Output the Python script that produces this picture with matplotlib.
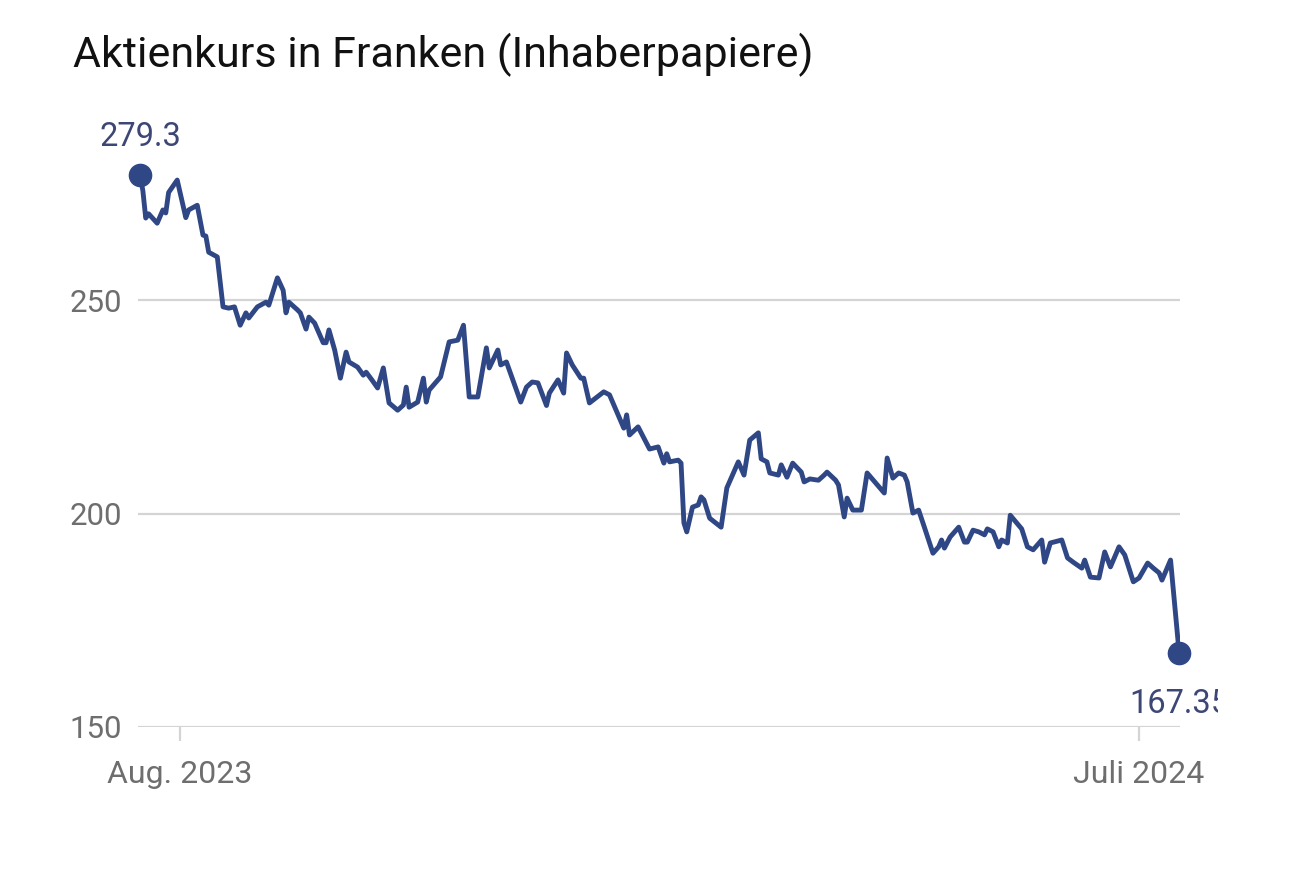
import matplotlib
matplotlib.use("Agg")
import matplotlib.pyplot as plt
import matplotlib.dates as mdates
from matplotlib.transforms import Bbox, TransformedBbox
import pandas as pd

# Kursdaten: Tage seit dem Startdatum und Schlusskurs in Franken
START = "2023-07-18"
tage = [0, 1, 2, 3, 6, 8, 9, 10, 13, 16, 17, 20, 22, 23, 24, 27, 29, 31, 33, 35,
        37, 38, 41, 44, 45, 48, 50, 51, 52, 55, 56, 58, 59, 61, 64, 65, 66, 68, 70, 72,
        73, 76, 78, 79, 81, 83, 85, 87, 90, 92, 93, 94, 97, 99, 100, 101, 105, 108, 111, 113,
        115, 118, 121, 122, 125, 126, 128, 133, 135, 137, 139, 142, 143, 146, 148, 149, 151, 154, 155, 157,
        162, 164, 169, 170, 171, 174, 178, 181, 183, 184, 185, 188, 189, 190, 191, 193, 195, 196, 197, 199,
        203, 205, 209, 211, 213, 216, 217, 219, 220, 223, 224, 226, 228, 231, 232, 234, 237, 239, 240, 243,
        244, 246, 247, 249, 252, 254, 260, 261, 263, 265, 267, 268, 270, 272, 274, 277, 279, 280, 281, 283,
        286, 288, 289, 291, 293, 295, 296, 298, 300, 301, 303, 304, 306, 308, 310, 312, 315, 316, 318, 322,
        324, 326, 329, 330, 332, 335, 337, 339, 342, 344, 347, 349, 352, 354, 356, 357, 360, 363]
kurs = [279.3, 275.6, 269.2, 270.2, 268.0, 271.1, 270.4, 275.2, 278.1, 269.3, 271.1, 272.2, 265.2, 265.0, 261.2, 260.1, 248.4, 248.1, 248.4, 244.1,
        247.0, 245.8, 248.4, 249.5, 248.8, 255.2, 252.3, 247.0, 249.5, 247.7, 247.0, 243.2, 246.0, 244.6, 240.0, 240.0, 243.0, 238.3, 231.7, 237.8,
        235.5, 234.3, 232.4, 233.1, 231.3, 229.4, 234.1, 225.9, 224.2, 225.4, 229.6, 224.9, 226.1, 231.7, 226.1, 228.9, 232.0, 240.2, 240.6, 244.1,
        227.3, 227.3, 238.8, 234.1, 238.3, 234.8, 235.5, 226.1, 229.6, 230.8, 230.6, 225.3, 228.2, 231.3, 228.2, 237.6, 234.8, 231.7, 231.7, 225.9,
        228.5, 227.8, 220.0, 223.1, 218.4, 220.3, 215.1, 215.6, 211.8, 214.0, 212.1, 212.5, 211.8, 197.8, 195.7, 201.5, 202.0, 203.9, 203.2, 198.9,
        196.8, 206.0, 212.1, 209.0, 217.2, 218.9, 212.8, 212.1, 209.5, 209.0, 211.4, 208.5, 211.8, 209.7, 207.4, 208.1, 207.8, 209.0, 209.7, 207.8,
        206.7, 199.2, 203.6, 200.8, 200.8, 209.5, 204.8, 213.0, 208.3, 209.5, 209.0, 207.4, 200.1, 200.8, 196.8, 190.7, 192.2, 193.8, 191.9, 194.5,
        196.8, 193.3, 193.3, 196.1, 195.7, 195.0, 196.4, 195.7, 192.2, 193.8, 193.1, 199.6, 198.0, 196.4, 192.2, 191.5, 193.8, 188.6, 193.1, 193.8,
        189.6, 188.6, 187.2, 189.1, 185.1, 184.9, 191.0, 187.5, 192.2, 190.3, 184.0, 184.9, 188.4, 187.2, 186.1, 184.4, 189.1, 167.35]

y_ticks = [150, 200, 250]
x_ticks = ["2023-08-01", "2024-07-01"]
x_labels = ["Aug. 2023", "Juli 2024"]
titel = "Aktienkurs in Franken (Inhaberpapiere)"

LINE = "#2f4785"
VALUE_TEXT = "#3d4775"
GREY = "#6e6e6e"
GRID = "#d4d4d4"
FONT = ["Roboto", "DejaVu Sans"]

W, H = 1290, 873


def main():
    datum = pd.to_datetime(START) + pd.to_timedelta(tage, unit="D")

    fig = plt.figure(figsize=(W / 100, H / 100), dpi=100)
    fig.patch.set_facecolor("white")
    ax = fig.add_axes([138 / W, 146 / H, 1042 / W, 576.4 / H])

    ax.plot(datum, kurs, color=LINE, lw=3.5, solid_joinstyle="round", zorder=3)
    ax.plot([datum[0], datum[-1]], [kurs[0], kurs[-1]], "o", color=LINE,
            markersize=16, zorder=4, clip_on=False)

    ax.set_ylim(150, 285)
    ax.set_xlim(datum[0] - pd.Timedelta(days=0.7), datum[-1] + pd.Timedelta(days=0.3))

    ax.set_yticks(y_ticks)
    ax.set_yticklabels([str(t) for t in y_ticks])
    ax.set_xticks(mdates.date2num(pd.to_datetime(x_ticks)))
    ax.set_xticklabels(x_labels)

    ax.grid(axis="y", color=GRID, lw=1.6, zorder=0)
    ax.set_axisbelow(True)
    for s in ax.spines.values():
        s.set_visible(False)

    ax.tick_params(axis="y", length=0, pad=11.5, labelsize=22.5, labelcolor=GREY)
    ax.tick_params(axis="x", length=10, width=1.6, color=GRID, pad=14,
                   labelsize=23, labelcolor=GREY)
    for lab in ax.get_xticklabels() + ax.get_yticklabels():
        lab.set_fontfamily(FONT)

    # Y-Beschriftungen sind am linken Rand abgeschnitten
    left_clip = TransformedBbox(Bbox.from_extents(71 / W, 0, 1, 1), fig.transFigure)
    for lab in ax.get_yticklabels():
        lab.set_clip_box(left_clip)
        lab.set_clip_on(True)

    ax.annotate(f"{kurs[0]}", (datum[0], kurs[0]), xytext=(0, 16),
                textcoords="offset points", ha="center", va="bottom",
                fontsize=23.5, color=VALUE_TEXT, family=FONT,
                annotation_clip=False)
    end = ax.annotate(f"{kurs[-1]}", (datum[-1], kurs[-1]), xytext=(0, -25),
                      textcoords="offset points", ha="center", va="top",
                      fontsize=23.5, color=VALUE_TEXT, family=FONT,
                      annotation_clip=False)
    end.set_clip_box(TransformedBbox(Bbox.from_extents(0, 0, 1218 / W, 1), fig.transFigure))
    end.set_clip_on(True)

    fig.text(73 / W, 1 - 67 / H, titel, ha="left", va="baseline", fontsize=31,
             color="#111111", family=FONT)

    fig.savefig("out.png", dpi=100, facecolor="white")


main()
